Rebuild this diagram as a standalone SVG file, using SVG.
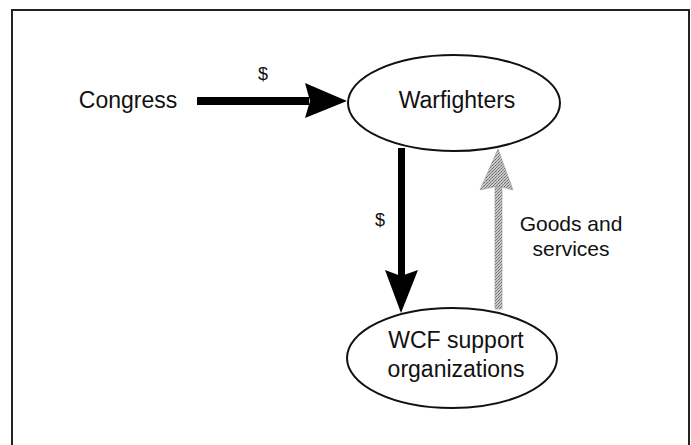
<svg xmlns="http://www.w3.org/2000/svg" width="691" height="445" viewBox="0 0 691 445">
<defs>
<style>
.t{font-family:"Liberation Sans",Arial,sans-serif;fill:#111;}
.node{fill:#fff;stroke:#111;stroke-width:2;}
.blk{fill:#000;}
.gry{fill:url(#stipple);stroke:#9a9a9a;stroke-width:0.6;}
</style>
<pattern id="stipple" width="3" height="3" patternUnits="userSpaceOnUse">
<rect width="3" height="3" fill="#c8c8c8"/>
<rect x="0" y="0" width="1" height="1" fill="#6a6a6a"/>
<rect x="2" y="1" width="1" height="1" fill="#888"/>
<rect x="1" y="2" width="1" height="1" fill="#777"/>
</pattern>
</defs>
<rect width="691" height="445" fill="#fff"/>
<path d="M12,446 V10 H689 V446" fill="none" stroke="#222" stroke-width="2"/>
<g id="connectors">
<g id="c-congress-warfighters">
<rect class="blk" x="197" y="97" width="112" height="8"/>
<polygon class="blk" points="305,83 347,101 305,118 310,101"/>
<text class="t" x="263" y="80" font-size="18" text-anchor="middle">$</text>
</g>
<g id="c-warfighters-wcf">
<rect class="blk" x="398" y="148" width="7" height="128"/>
<polygon class="blk" points="385,270 401,276 418,270 401,313"/>
<text class="t" x="380" y="226" font-size="18" text-anchor="middle">$</text>
</g>
<g id="c-wcf-warfighters">
<rect class="gry" x="495" y="186" width="7" height="123"/>
<polygon class="gry" points="498,149 513,190 498,186 480,190"/>
<text class="t" x="571" y="231" font-size="21" text-anchor="middle">Goods and</text>
<text class="t" x="571" y="256" font-size="21" text-anchor="middle">services</text>
</g>
</g>
<g id="congress">
<text class="t" x="128" y="108" font-size="23" text-anchor="middle">Congress</text>
</g>
<g id="warfighters">
<ellipse class="node" cx="454" cy="103" rx="106" ry="48"/>
<text class="t" x="457" y="108" font-size="23" text-anchor="middle">Warfighters</text>
</g>
<g id="wcf">
<ellipse class="node" cx="452" cy="358" rx="105" ry="50"/>
<text class="t" x="456" y="348" font-size="23" text-anchor="middle">WCF support</text>
<text class="t" x="456" y="377" font-size="23" text-anchor="middle">organizations</text>
</g>
</svg>
